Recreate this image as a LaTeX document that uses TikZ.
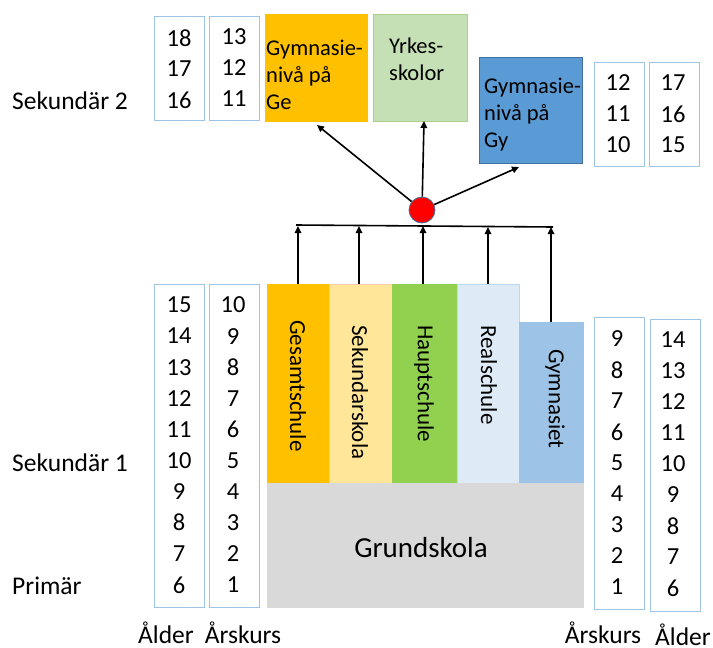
\documentclass[tikz,border=0pt]{standalone}
\usepackage{fontspec}
\setmainfont{Carlito}
\usetikzlibrary{arrows.meta}
\definecolor{cOrange}{HTML}{FFC000}
\definecolor{cYrk}{HTML}{C5E0B4}
\definecolor{cYrkB}{HTML}{A9D18E}
\definecolor{cGy}{HTML}{5B9BD5}
\definecolor{cGyB}{HTML}{41719C}
\definecolor{cSek}{HTML}{FFE699}
\definecolor{cSekB}{HTML}{F8CBAD}
\definecolor{cHaupt}{HTML}{92D050}
\definecolor{cReal}{HTML}{DEEBF7}
\definecolor{cRealB}{HTML}{BDD7EE}
\definecolor{cGymn}{HTML}{9DC3E6}
\definecolor{cGrund}{HTML}{D9D9D9}
\definecolor{cNumB}{HTML}{9DC3E6}
\begin{document}
\begin{tikzpicture}[x=1pt,y=-1pt,
  txt/.style={font=\fontsize{25.5}{30}\selectfont, inner sep=0pt},
  boxtxt/.style={font=\fontsize{22.5}{27}\selectfont, inner sep=0pt, anchor=base west},
  rottxt/.style={font=\fontsize{23}{27}\selectfont, inner sep=0pt, rotate=-90, anchor=west},
  num/.style={font=\fontsize{24.5}{30}\selectfont, inner sep=0pt},
  numbox/.style={draw=cNumB, line width=0.8pt, fill=white},
  block/.style={line width=0.6pt, anchor=north west},
  arr/.style={line width=1.6pt, -{Triangle[length=7pt,width=6.5pt]}},
  ln/.style={line width=1.6pt}
]
\useasboundingbox (0,0) rectangle (713,648);

% top-left number boxes
\draw[numbox] (154,16) rectangle (204,120);
\draw[numbox] (209,16) rectangle (259,120);
\foreach \n [count=\i] in {18,17,16} \node[num] (tla\i) at (179,{38+31*(\i-1)}) {\n};
\foreach \n [count=\i] in {13,12,11} \node[num] (tlg\i) at (234,{37+31*(\i-1)}) {\n};

% top-right number boxes
\draw[numbox] (594,62) rectangle (644,166);
\draw[numbox] (649,62) rectangle (699,166);
\foreach \n [count=\i] in {12,11,10} \node[num] (trg\i) at (618,{83+31*(\i-1)}) {\n};
\foreach \n [count=\i] in {17,16,15} \node[num] (tra\i) at (673,{83+31*(\i-1)}) {\n};

% upper destination boxes
\node[block, fill=cOrange, draw=cOrange, minimum width=102pt, minimum height=107pt] (ge) at (265,14) {};
\node[boxtxt] (ge1) at (266,55) {Gymnasie-};
\node[boxtxt] (ge2) at (266,82) {nivå på};
\node[boxtxt] (ge3) at (266,109) {Ge};
\node[block, fill=cYrk, draw=cYrkB, minimum width=94pt, minimum height=107pt] (yrk) at (373,14) {};
\node[boxtxt] (yrk1) at (389,53) {Yrkes-};
\node[boxtxt] (yrk2) at (389,80) {skolor};
\node[block, fill=cGy, draw=cGyB, minimum width=103pt, minimum height=106pt] (gy) at (479,57) {};
\node[boxtxt] (gy1) at (484,93) {Gymnasie-};
\node[boxtxt] (gy2) at (484,120) {nivå på};
\node[boxtxt] (gy3) at (484,147) {Gy};

% lower school blocks
\node[block, fill=cOrange, draw=cOrange, minimum width=62pt, minimum height=199pt] (gesamt) at (267,284) {};
\node[block, fill=cSek, draw=cSekB, minimum width=63pt, minimum height=199pt] (sek) at (329,284) {};
\node[block, fill=cHaupt, draw=cHaupt, minimum width=65pt, minimum height=199pt] (haupt) at (392,284) {};
\node[block, fill=cReal, draw=cRealB, minimum width=62pt, minimum height=199pt] (real) at (457,284) {};
\node[block, fill=cGymn, draw=cGymn, minimum width=64pt, minimum height=161pt] (gymn) at (519,322) {};
\node[block, fill=cGrund, draw=cGrund, minimum width=316pt, minimum height=124pt] (grund) at (267,483) {};

\node[rottxt] (gesamttxt) at (298,320) {Gesamtschule};
\node[rottxt] (sektxt) at (360,325) {Sekundarskola};
\node[rottxt] (haupttxt) at (424,325) {Hauptschule};
\node[rottxt] (realtxt) at (489,325) {Realschule};
\node[rottxt] (gymntxt) at (555,349) {Gymnasiet};
\node[font=\fontsize{29}{33}\selectfont, inner sep=0pt] (grundtxt) at (421,548) {Grundskola};

% lower number boxes
\draw[numbox] (154,284) rectangle (204,607);
\draw[numbox] (209,284) rectangle (259,607);
\foreach \n [count=\i] in {15,14,13,12,11,10,9,8,7,6} \node[num] (la\i) at (179,{305+31.1*(\i-1)}) {\n};
\foreach \n [count=\i] in {10,9,8,7,6,5,4,3,2,1} \node[num] (lg\i) at (233,{305+31.1*(\i-1)}) {\n};
\draw[numbox] (594,317) rectangle (644,609);
\draw[numbox] (650,319) rectangle (700,611);
\foreach \n [count=\i] in {9,8,7,6,5,4,3,2,1} \node[num] (rg\i) at (617,{339+31*(\i-1)}) {\n};
\foreach \n [count=\i] in {14,13,12,11,10,9,8,7,6} \node[num] (ra\i) at (673,{340+31*(\i-1)}) {\n};

% side labels
\node[txt, anchor=west] (s2) at (12,101) {Sekundär 2};
\node[txt, anchor=west] (s1) at (12,463) {Sekundär 1};
\node[txt, anchor=west] (pr) at (12,586) {Primär};
\node[txt, anchor=base] (al1) at (166,643) {Ålder};
\node[txt, anchor=base] (ar1) at (243,643) {Årskurs};
\node[txt, anchor=base] (ar2) at (603,643) {Årskurs};
\node[txt, anchor=base] (al2) at (683,645) {Ålder};

% collector line and hub
\coordinate (bl) at (296,225);
\coordinate (br) at (553,227);
\draw[ln] (bl) -- (br);
\node[circle, fill=red, draw=cGyB, line width=0.8pt, minimum size=26pt, inner sep=0pt] (hub) at (422,210) {};

\draw[arr] (298,284) -- (298,226);
\draw[arr] (359,284) -- (359,226);
\draw[arr] (423,284) -- (423,226);
\draw[arr] (488,284) -- (488,227);
\draw[arr] (551,322) -- (551,227);

\coordinate (tge) at (317,125);
\coordinate (tyrk) at (424,121);
\coordinate (tgy) at (519,167);
\draw[arr] (hub) -- (tge);
\draw[arr] (hub) -- (tyrk);
\draw[arr] (hub) -- (tgy);
\end{tikzpicture}
\end{document}
